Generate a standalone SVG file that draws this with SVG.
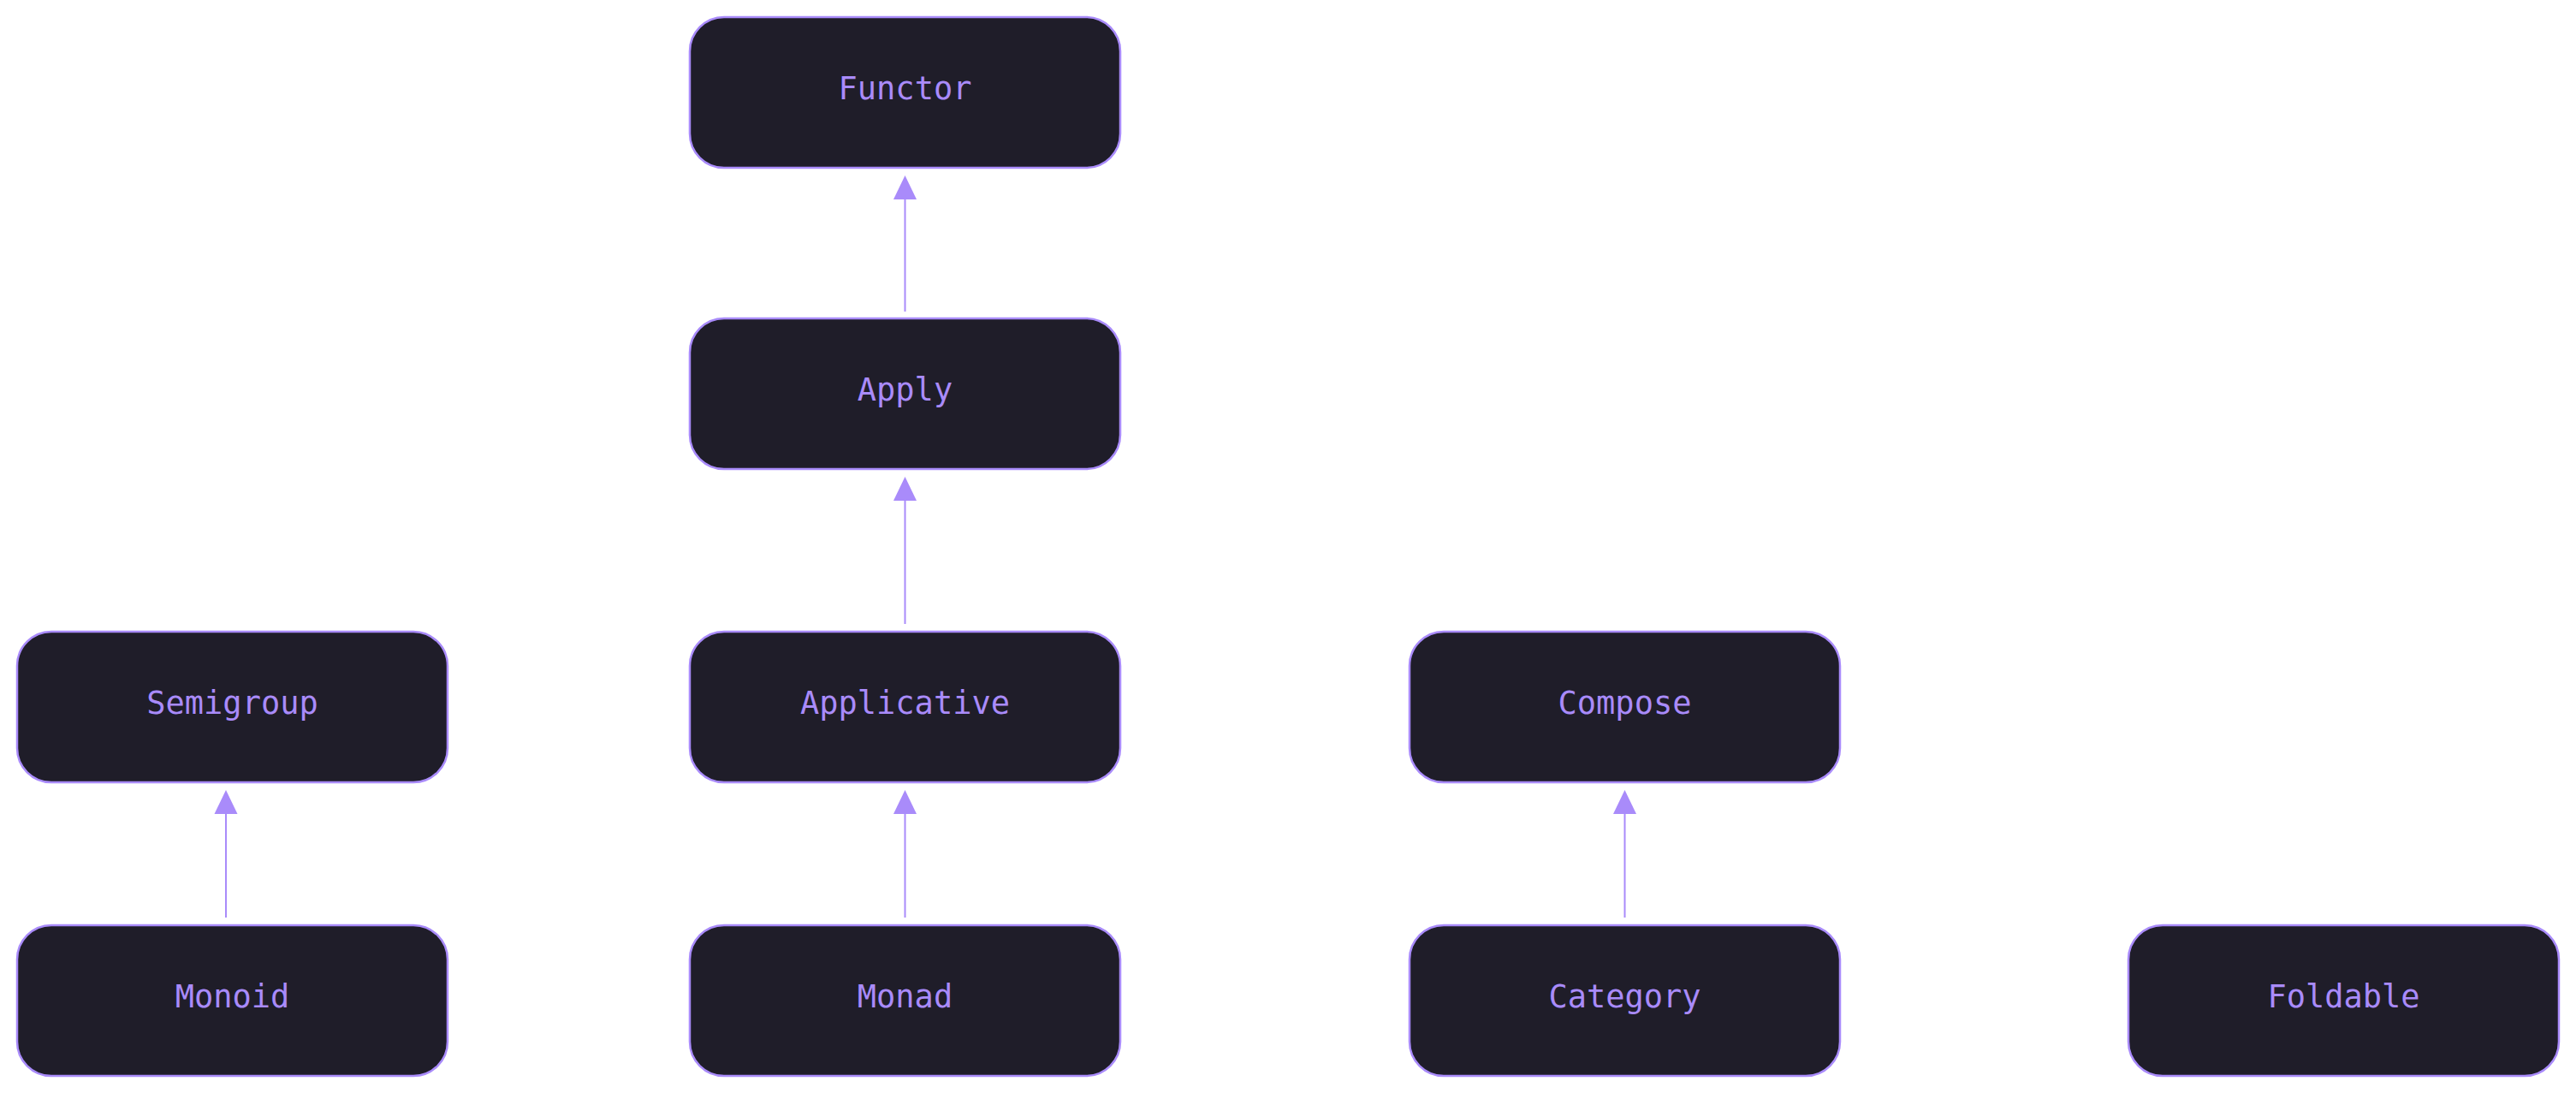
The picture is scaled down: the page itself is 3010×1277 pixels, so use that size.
<svg xmlns="http://www.w3.org/2000/svg" width="3010" height="1277" viewBox="0 0 3010 1277">
  <style>
    .box { fill: #1f1d29; stroke: #a98bfa; stroke-width: 2.5; }
    .lbl { fill: #a98bfa; font-family: "DejaVu Sans Mono", "Liberation Mono", monospace; font-size: 37px; text-anchor: middle; }
    .edge { stroke: #a98bfa; stroke-width: 2; fill: none; }
    .head { fill: #a98bfa; }
  </style>
  <rect width="3010" height="1277" fill="#ffffff"/>
  <g id="connectors">
    <line class="edge" x1="1057.5" y1="364" x2="1057.5" y2="232"/>
    <polygon class="head" points="1057.5,205 1044,233 1071,233"/>
    <line class="edge" x1="1057.5" y1="729" x2="1057.5" y2="584"/>
    <polygon class="head" points="1057.5,557 1044,585 1071,585"/>
    <line class="edge" x1="1057.5" y1="1072" x2="1057.5" y2="950"/>
    <polygon class="head" points="1057.5,923 1044,951 1071,951"/>
    <line class="edge" x1="264" y1="1072" x2="264" y2="950"/>
    <polygon class="head" points="264,923 250.5,951 277.5,951"/>
    <line class="edge" x1="1898.5" y1="1072" x2="1898.5" y2="950"/>
    <polygon class="head" points="1898.5,923 1885,951 1912,951"/>
  </g>
  <g id="Functor">
    <rect class="box" x="806" y="20" width="503" height="176" rx="40" ry="40"/>
    <text class="lbl" x="1057.5" y="116">Functor</text>
  </g>
  <g id="Apply">
    <rect class="box" x="806" y="372" width="503" height="176" rx="40" ry="40"/>
    <text class="lbl" x="1057.5" y="468">Apply</text>
  </g>
  <g id="Semigroup">
    <rect class="box" x="20" y="738" width="503" height="176" rx="40" ry="40"/>
    <text class="lbl" x="271.5" y="834">Semigroup</text>
  </g>
  <g id="Applicative">
    <rect class="box" x="806" y="738" width="503" height="176" rx="40" ry="40"/>
    <text class="lbl" x="1057.5" y="834">Applicative</text>
  </g>
  <g id="Compose">
    <rect class="box" x="1647" y="738" width="503" height="176" rx="40" ry="40"/>
    <text class="lbl" x="1898.5" y="834">Compose</text>
  </g>
  <g id="Monoid">
    <rect class="box" x="20" y="1081" width="503" height="176" rx="40" ry="40"/>
    <text class="lbl" x="271.5" y="1177">Monoid</text>
  </g>
  <g id="Monad">
    <rect class="box" x="806" y="1081" width="503" height="176" rx="40" ry="40"/>
    <text class="lbl" x="1057.5" y="1177">Monad</text>
  </g>
  <g id="Category">
    <rect class="box" x="1647" y="1081" width="503" height="176" rx="40" ry="40"/>
    <text class="lbl" x="1898.5" y="1177">Category</text>
  </g>
  <g id="Foldable">
    <rect class="box" x="2487" y="1081" width="503" height="176" rx="40" ry="40"/>
    <text class="lbl" x="2738.5" y="1177">Foldable</text>
  </g>
</svg>
